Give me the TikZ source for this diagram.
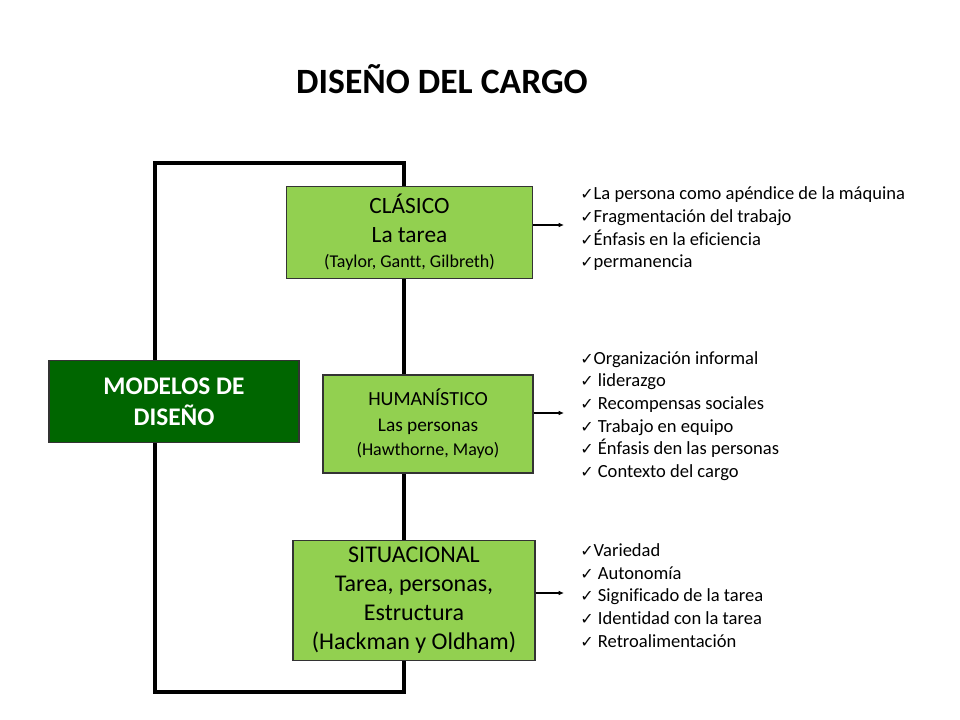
\documentclass[tikz,border=0pt]{standalone}
\usepackage{fontspec}
\setmainfont[Ligatures=NoCommon]{Carlito}
\newfontfamily\symfont{DejaVu Sans}
\usetikzlibrary{arrows.meta}
\definecolor{lightgreen}{RGB}{146,208,80}
\definecolor{darkgreen}{RGB}{0,102,0}
\newcommand{\chk}{{\symfont\fontsize{12}{12}\selectfont ✓}}

\begin{document}
\begin{tikzpicture}[x=0.75pt,y=-0.75pt,
	model/.style={draw=black!80,line width=0.8pt,fill=lightgreen,align=center,inner sep=0pt},
	items/.style={anchor=west,align=left,font=\fontsize{13.9}{17}\selectfont,inner sep=0pt},
	frame/.style={line width=3pt},
	arr/.style={-{Latex[length=4pt,width=3.5pt]},line width=0.8pt}]
				\useasboundingbox (0,0) rectangle (960,720);

				\node (title) at (442,79) {\fontsize{26.7}{32}\selectfont\bfseries DISEÑO DEL CARGO};

				\coordinate (tl) at (155,163);
				\coordinate (br) at (404,692);
				\draw [frame](tl) rectangle (br);

				\node (modelos) [draw=black!80,line width=0.8pt,fill=darkgreen,text=white,align=center,
					minimum width=187.5pt,minimum height=61.5pt,font=\fontsize{19}{23}\selectfont\bfseries] at (174,401.5) {MODELOS DE\\DISEÑO};

				\node (clasico) [model,minimum width=185pt,minimum height=68.5pt,font=\fontsize{17.5}{21.75}\selectfont] at (409.5,232.5)
					{CLÁSICO\\La tarea\\[-3pt]\fontsize{13.5}{16}\selectfont (Taylor, Gantt, Gilbreth)};
				\node (humanistico) [model,minimum width=157.5pt,minimum height=73.5pt,font=\fontsize{14.5}{19.5}\selectfont] at (428,424)
					{\fontsize{15}{19.5}\selectfont HUMANÍSTICO\\Las personas\\[-1.5pt]\fontsize{13.5}{16}\selectfont (Hawthorne, Mayo)};
				\node (situacional) [model,minimum width=181.5pt,minimum height=89.5pt,font=\fontsize{18}{21.75}\selectfont] at (414,600.5)
					{SITUACIONAL\\Tarea, personas,\\Estructura\\(Hackman y Oldham)};

				\node (lista1) [items] at (580,229) {\chk La persona como apéndice de la máquina\\\chk Fragmentación del trabajo\\\chk Énfasis en la eficiencia\\\chk permanencia};
				\node (lista2) [items] at (580,416) {\chk Organización informal\\\chk\ liderazgo\\\chk\ Recompensas sociales\\\chk\ Trabajo en equipo\\\chk\ Énfasis den las personas\\\chk\ Contexto del cargo};
				\node (lista3) [items] at (580,595.5) {\chk Variedad\\\chk\ Autonomía\\\chk\ Significado de la tarea\\\chk\ Identidad con la tarea\\\chk\ Retroalimentación};

				\coordinate (p1) at (564,225);
				\coordinate (p2) at (564,413);
				\coordinate (p3) at (564,593);
				\draw [arr](clasico.east |- p1) -- (p1);
				\draw [arr](humanistico.east |- p2) -- (p2);
				\draw [arr](situacional.east |- p3) -- (p3);
			\end{tikzpicture}
\end{document}
